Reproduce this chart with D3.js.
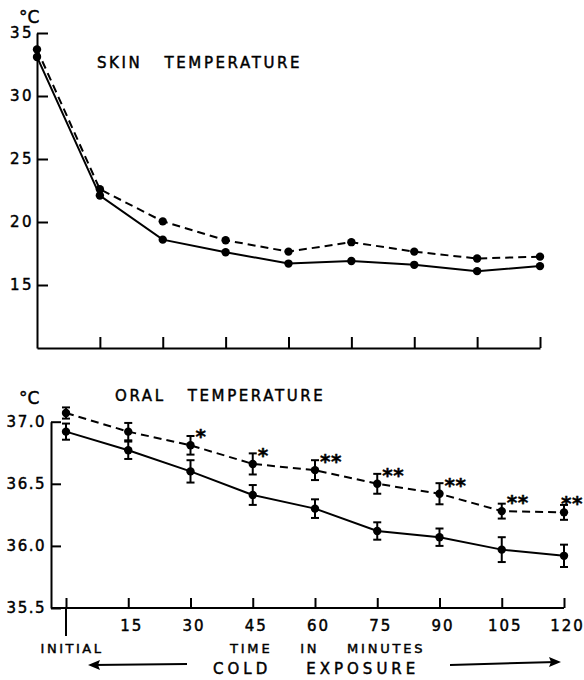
<!DOCTYPE html>
<html>
<head>
<meta charset="utf-8">
<script src="https://cdn.jsdelivr.net/npm/d3@7"></script>
<style>
  body { margin: 0; background: #fff; }
  svg text { font-family: "DejaVu Sans", sans-serif; fill: #000; stroke: #000; stroke-width: 0.45px; }
  .axis path, .axis line { stroke: #000; stroke-width: 2; }
  .axis text { font-size: 15px; letter-spacing: 2.5px; }
</style>
</head>
<body>
<svg id="chart" width="584" height="680"></svg>
<script>
const times = [0, 15, 30, 45, 60, 75, 90, 105, 120];

const skinSolid = [33.1, 22.1, 18.6, 17.6, 16.7, 16.9, 16.6, 16.1, 16.5];
const skinDashed = [33.7, 22.6, 20.05, 18.55, 17.65, 18.4, 17.65, 17.1, 17.25];
const skinTicks = [15, 20, 25, 30, 35];

const oralSolid = [36.92, 36.77, 36.60, 36.41, 36.30, 36.12, 36.07, 35.97, 35.92];
const oralSolidErr = [0.065, 0.07, 0.09, 0.08, 0.075, 0.07, 0.07, 0.1, 0.09];
const oralDashed = [37.07, 36.92, 36.81, 36.66, 36.61, 36.50, 36.42, 36.28, 36.27];
const oralDashedErr = [0.045, 0.07, 0.075, 0.085, 0.08, 0.08, 0.085, 0.06, 0.06];
const oralTicks = [35.5, 36.0, 36.5, 37.0];
const stars = ["", "", "*", "*", "**", "**", "**", "**", "**"];

var svg = d3.select("#chart");

// ---------- skin temperature ----------
const x1 = d3.scaleLinear().domain([0, 120]).range([37, 540]);
const y1 = d3.scaleLinear().domain([10, 35]).range([348, 33]);

svg.append("g")
  .attr("class", "axis")
  .attr("transform", "translate(37,0)")
  .call(d3.axisLeft(y1).tickValues(skinTicks).tickSizeInner(-11).tickSizeOuter(0).tickPadding(3)
    .tickFormat(d3.format("d")));

svg.append("g")
  .attr("class", "axis")
  .attr("transform", "translate(0,348)")
  .call(d3.axisBottom(x1).tickValues(times.slice(1)).tickSizeInner(-11).tickSizeOuter(0)
    .tickFormat(""));

svg.append("text").attr("x", 19).attr("y", 23).style("font-size", "17px").text("°C");
svg.append("text").attr("x", 97).attr("y", 68).style("font-size", "15px")
  .style("letter-spacing", "2.6px").attr("xml:space", "preserve").text("SKIN   TEMPERATURE");

function drawLine(xs, ys, vals, dashed) {
  var line = d3.line().x((d, i) => xs(times[i])).y(d => ys(d));
  svg.append("path")
    .datum(vals)
    .attr("d", line)
    .attr("fill", "none")
    .attr("stroke", "#000")
    .attr("stroke-width", 2)
    .attr("stroke-dasharray", dashed ? "8,5" : null);
  svg.append("g").selectAll("circle")
    .data(vals)
    .enter().append("circle")
    .attr("cx", (d, i) => xs(times[i]))
    .attr("cy", d => ys(d))
    .attr("r", 4.2)
    .attr("fill", "#000");
}

drawLine(x1, y1, skinDashed, true);
drawLine(x1, y1, skinSolid, false);

// ---------- oral temperature ----------
const x2 = d3.scaleLinear().domain([0, 120]).range([66, 564]);
const y2 = d3.scaleLinear().domain([35.5, 37.0]).range([608, 421.7]);

svg.append("g")
  .attr("class", "axis")
  .attr("transform", "translate(51,0)")
  .call(d3.axisLeft(y2).tickValues(oralTicks).tickSizeInner(-10).tickSizeOuter(0).tickPadding(5)
    .tickFormat(d3.format(".1f")))
  .selectAll(".tick text").style("letter-spacing", "1.5px");

var xAxis2 = svg.append("g")
  .attr("class", "axis")
  .attr("transform", "translate(0,608)")
  .call(d3.axisBottom(x2).tickValues(times).tickSizeInner(-10).tickSizeOuter(0).tickPadding(12)
    .tickFormat(d => d == 0 ? "" : d));
xAxis2.select(".domain").remove();
xAxis2.selectAll(".tick text").attr("dx", 3).style("letter-spacing", "2px");

svg.append("line")
  .attr("x1", 51).attr("x2", x2(120))
  .attr("y1", 608).attr("y2", 608)
  .attr("stroke", "#000").attr("stroke-width", 2);
svg.append("line")
  .attr("x1", x2(0)).attr("x2", x2(0))
  .attr("y1", 608).attr("y2", 636)
  .attr("stroke", "#000").attr("stroke-width", 2);

svg.append("text").attr("x", 19).attr("y", 404).style("font-size", "17px").text("°C");
svg.append("text").attr("x", 115).attr("y", 401).style("font-size", "15px")
  .style("letter-spacing", "2.6px").attr("xml:space", "preserve").text("ORAL   TEMPERATURE");

function drawErr(vals, errs) {
  var g = svg.append("g").attr("stroke", "#000").attr("stroke-width", 2);
  vals.forEach(function (v, i) {
    var cx = x2(times[i]);
    g.append("line").attr("x1", cx).attr("x2", cx).attr("y1", y2(v - errs[i])).attr("y2", y2(v + errs[i]));
    g.append("line").attr("x1", cx - 4).attr("x2", cx + 4).attr("y1", y2(v - errs[i])).attr("y2", y2(v - errs[i]));
    g.append("line").attr("x1", cx - 4).attr("x2", cx + 4).attr("y1", y2(v + errs[i])).attr("y2", y2(v + errs[i]));
  });
}

drawErr(oralDashed, oralDashedErr);
drawErr(oralSolid, oralSolidErr);
drawLine(x2, y2, oralDashed, true);
drawLine(x2, y2, oralSolid, false);

var last = stars.length - 1;
svg.append("g").selectAll("text")
  .data(stars)
  .enter().append("text")
  .attr("x", (d, i) => i == last ? 583 : x2(times[i]) + 5)
  .attr("text-anchor", (d, i) => i == last ? "end" : "start")
  .attr("y", (d, i) => y2(oralDashed[i]) - 2)
  .style("font-size", "20px")
  .style("font-weight", "bold")
  .style("letter-spacing", "0.5px")
  .text(d => d);

// ---------- x labels ----------
svg.append("text").attr("x", 72).attr("y", 653).attr("text-anchor", "middle")
  .style("font-size", "13px").style("letter-spacing", "2.5px").text("INITIAL");
svg.append("text").attr("x", 230).attr("y", 653)
  .style("font-size", "13px").style("letter-spacing", "2.8px").attr("xml:space", "preserve")
  .text("TIME    IN    MINUTES");
svg.append("text").attr("x", 213).attr("y", 674)
  .style("font-size", "15px").style("letter-spacing", "4px").attr("xml:space", "preserve")
  .text("COLD    EXPOSURE");

svg.append("path").attr("d", "M187,664 L92,665").attr("stroke", "#000").attr("stroke-width", 2);
svg.append("path").attr("d", "M88,665 L100,660 L98,665 L100,670 Z").attr("fill", "#000");
svg.append("path").attr("d", "M450,665 L556,662").attr("stroke", "#000").attr("stroke-width", 2);
svg.append("path").attr("d", "M561,662 L549,657 L551,662 L549,667 Z").attr("fill", "#000");
</script>
</body>
</html>
